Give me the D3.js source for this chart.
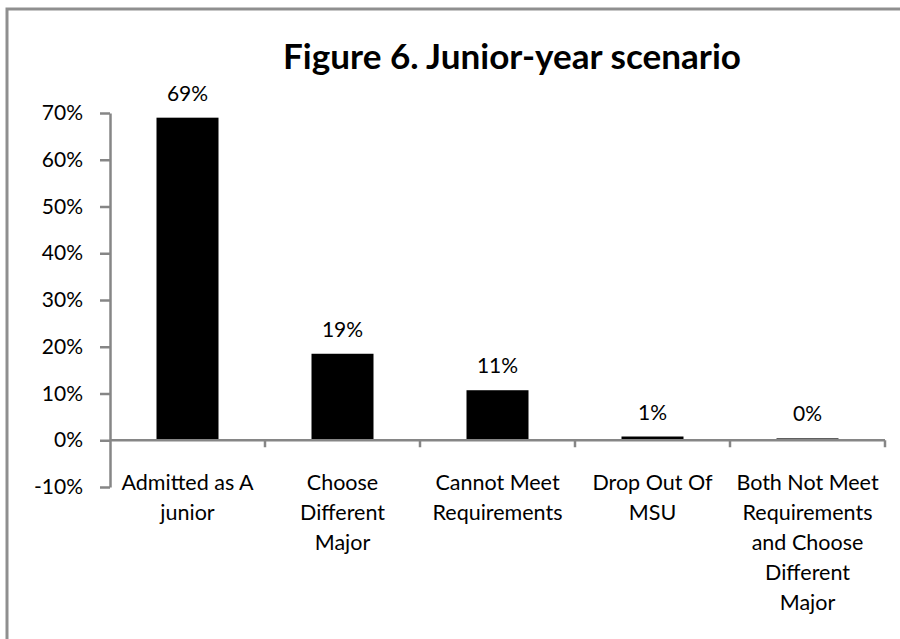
<!DOCTYPE html>
<html>
<head>
<meta charset="utf-8">
<script src="https://cdn.jsdelivr.net/npm/d3@7/dist/d3.min.js"></script>
<style>
  html, body { margin: 0; padding: 0; background: #fff; }
  svg { display: block; font-family: "Lato", "Carlito", "Open Sans", sans-serif; }
</style>
</head>
<body>
<svg id="chart" width="900" height="639"></svg>
<script>
// ---- data ----
const title = "Figure 6. Junior-year scenario";
const categories = [
  "Admitted as A\njunior",
  "Choose\nDifferent\nMajor",
  "Cannot Meet\nRequirements",
  "Drop Out Of\nMSU",
  "Both Not Meet\nRequirements\nand Choose\nDifferent\nMajor"
];
const values = [0.69, 0.185, 0.107, 0.008, 0.004];
const valueLabels = ["69%", "19%", "11%", "1%", "0%"];
const yTicks = [-0.1, 0, 0.1, 0.2, 0.3, 0.4, 0.5, 0.6, 0.7];
const yTickLabels = ["-10%", "0%", "10%", "20%", "30%", "40%", "50%", "60%", "70%"];

// ---- layout ----
const W = 900, H = 639;
const plot = { left: 110, right: 885, top: 113, bottom: 487 };
const axisColor = "#868686";
const svg = d3.select("#chart");

svg.append("rect").attr("width", W).attr("height", H).attr("fill", "#fff");

// outer chart frame (continues beyond the visible area)
svg.append("path")
  .attr("d", `M7,${H + 5} V9 H${W + 5}`)
  .attr("fill", "none").attr("stroke", "#8f8f8f").attr("stroke-width", 3);

const x = d3.scaleBand().domain(categories)
  .range([plot.left, plot.right]).paddingInner(0.6).paddingOuter(0.3);
const y = d3.scaleLinear().domain([-0.1, 0.7]).range([plot.bottom, plot.top]);

// title
const t = svg.append("text")
  .attr("x", 512).attr("y", 69)
  .attr("text-anchor", "middle")
  .attr("font-weight", "bold").attr("font-size", 33)
  .attr("fill", "#000")
  .text(title);
const tw = t.node().getComputedTextLength();
t.attr("font-size", 33 * 458 / tw);

// bars
svg.append("g").selectAll("rect").data(values).join("rect")
  .attr("x", (d, i) => x(categories[i]))
  .attr("width", x.bandwidth())
  .attr("y", d => y(d))
  .attr("height", d => y(0) - y(d))
  .attr("fill", "#000");

// data labels
svg.append("g").selectAll("text").data(values).join("text")
  .attr("x", (d, i) => x(categories[i]) + x.bandwidth() / 2)
  .attr("y", d => y(d) - 17)
  .attr("text-anchor", "middle")
  .attr("font-size", 21).attr("fill", "#000")
  .text((d, i) => valueLabels[i]);

// y axis
const yAxis = d3.axisLeft(y).tickValues(yTicks)
  .tickFormat((d, i) => yTickLabels[i]).tickSize(10).tickSizeOuter(0).tickPadding(17);
const gy = svg.append("g").attr("transform", `translate(${plot.left},0)`).call(yAxis);
gy.select(".domain").attr("stroke", axisColor).attr("stroke-width", 2.5);
gy.selectAll(".tick line").attr("stroke", axisColor).attr("stroke-width", 2.5);
gy.selectAll(".tick text").attr("font-size", 21).attr("fill", "#000")
  .attr("font-family", "Lato, sans-serif");

// x axis line at zero with ticks between categories
const y0 = y(0);
const bounds = [x(categories[0]) + x.bandwidth() / 2 - x.step() / 2]
  .concat(categories.map(c => x(c) + x.bandwidth() / 2 + x.step() / 2));
svg.append("line")
  .attr("x1", bounds[0]).attr("x2", bounds[bounds.length - 1])
  .attr("y1", y0).attr("y2", y0)
  .attr("stroke", axisColor).attr("stroke-width", 2.5);
svg.append("g").selectAll("line").data(bounds.slice(1)).join("line")
  .attr("x1", d => d).attr("x2", d => d)
  .attr("y1", y0).attr("y2", y0 + 7)
  .attr("stroke", axisColor).attr("stroke-width", 2.5);

// category labels
const cl = svg.append("g").selectAll("text").data(categories).join("text")
  .attr("text-anchor", "middle")
  .attr("font-size", 21.5).attr("fill", "#000")
  .attr("transform", d => `translate(${x(d) + x.bandwidth() / 2},490)`);
cl.selectAll("tspan").data(d => d.split("\n")).join("tspan")
  .attr("x", 0).attr("y", (d, i) => i * 30)
  .text(d => d);
</script>
</body>
</html>
